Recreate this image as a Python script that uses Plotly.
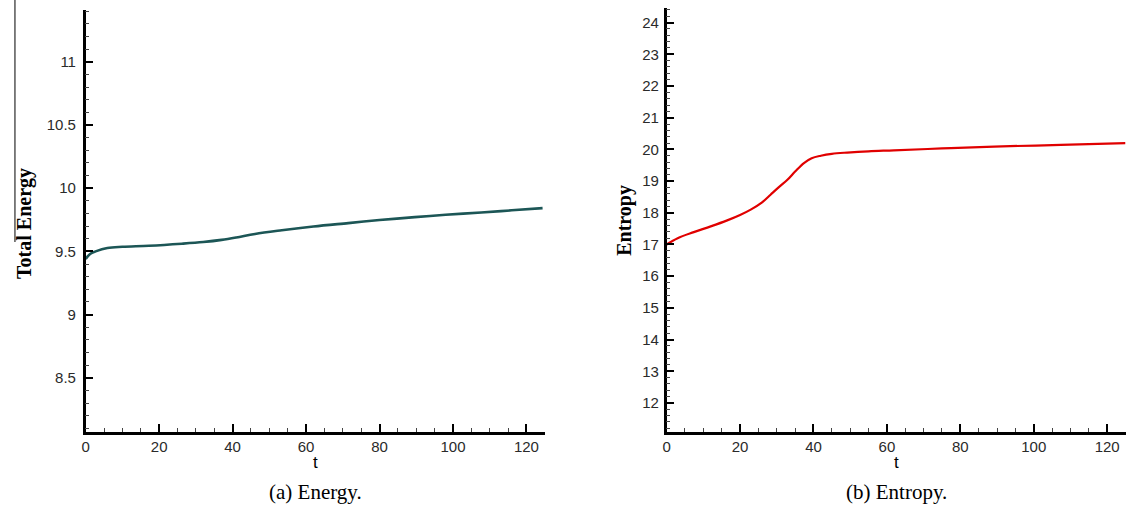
import plotly.graph_objects as go

# ---- data ----
t_energy = [0, 1.2, 2.7, 5.9, 10, 17.2, 26.2, 32, 37, 41, 46.1, 53.4, 62, 71.5, 80, 89.6, 98, 107.7, 116, 124.4]
energy = [9.44, 9.48, 9.50, 9.527, 9.537, 9.545, 9.561, 9.574, 9.591, 9.61, 9.638, 9.667, 9.697, 9.724, 9.748, 9.771, 9.79, 9.808, 9.825, 9.842]

t_entropy = [0, 3, 7.4, 12, 16.5, 20, 22.9, 26, 28.3, 30.5, 32.9, 35, 37.4, 39.5, 42, 45, 49.2, 55, 61.9, 75, 89.2, 107.4, 125]
entropy = [17.0, 17.2, 17.39, 17.57, 17.76, 17.93, 18.1, 18.33, 18.57, 18.8, 19.04, 19.3, 19.57, 19.72, 19.8, 19.86, 19.9, 19.94, 19.97, 20.03, 20.09, 20.14, 20.2]

x_ticks = [0, 20, 40, 60, 80, 100, 120]
energy_ticks = [8.5, 9, 9.5, 10, 10.5, 11]
energy_tick_labels = ["8.5", "9", "9.5", "10", "10.5", "11"]
entropy_ticks = list(range(12, 25))

W, H = 1130, 510
def px(x):
    return x / W
def py(y):
    return 1 - y / H

tick_font = dict(family="Liberation Sans, Arial, sans-serif", size=15, color="#2a2a2a")

fig = go.Figure()
fig.add_trace(go.Scatter(x=t_energy, y=energy, mode="lines", xaxis="x", yaxis="y",
                         line=dict(color="#1c5656", width=2.6, shape="spline"),
                         showlegend=False, hoverinfo="skip"))
fig.add_trace(go.Scatter(x=t_entropy, y=entropy, mode="lines", xaxis="x2", yaxis="y2",
                         line=dict(color="#e00000", width=2.2, shape="spline"),
                         showlegend=False, hoverinfo="skip"))

axis_common = dict(showgrid=False, zeroline=False, showline=True, linecolor="black",
                   linewidth=2.5, ticks="inside", ticklen=8, tickwidth=2.2, tickcolor="black",
                   tickfont=tick_font, mirror=False)

xminor = dict(dtick=5, ticks="inside", ticklen=4, tickwidth=1, tickcolor="#444444", showgrid=False)

fig.update_layout(
    width=W, height=H,
    margin=dict(l=0, r=0, t=0, b=0),
    paper_bgcolor="white", plot_bgcolor="white",
    xaxis=dict(domain=[px(82), px(542.7)], range=[0, 125], tickvals=x_ticks,
               anchor="y", minor=xminor, ticklabelstandoff=0, **axis_common),
    yaxis=dict(domain=[py(431.5), py(10)], range=[8.075, 11.41], tickvals=energy_ticks,
               ticktext=energy_tick_labels, anchor="x", ticklabelstandoff=4,
               minor=dict(dtick=0.1, ticks="inside", ticklen=4, tickwidth=1, tickcolor="#444444", showgrid=False),
               **axis_common),
    xaxis2=dict(domain=[px(665), px(1125.5)], range=[0, 125], tickvals=x_ticks,
                anchor="y2", minor=xminor, ticklabelstandoff=0, **axis_common),
    yaxis2=dict(domain=[py(431.5), py(8)], range=[11.1, 24.46], tickvals=entropy_ticks,
                anchor="x2", ticklabelstandoff=2,
                minor=dict(dtick=0.2, ticks="inside", ticklen=4, tickwidth=1, tickcolor="#444444", showgrid=False),
                **axis_common),
)

serif_bold = dict(family="Liberation Serif, DejaVu Serif, serif", size=20, color="black")
caption_font = dict(family="Liberation Serif, DejaVu Serif, serif", size=21, color="black")
t_font = dict(family="Liberation Sans, Arial, sans-serif", size=17, color="black")

annotations = [
    dict(text="<b>Total Energy</b>", x=px(20), y=py(223), xref="paper", yref="paper",
         textangle=-90, showarrow=False, font=serif_bold, xanchor="center", yanchor="middle"),
    dict(text="<b>Entropy</b>", x=px(622), y=py(220), xref="paper", yref="paper",
         textangle=-90, showarrow=False, font=serif_bold, xanchor="center", yanchor="middle"),
    dict(text="t", x=px(313), y=py(462), xref="paper", yref="paper",
         showarrow=False, font=t_font, xanchor="center", yanchor="middle"),
    dict(text="t", x=px(896), y=py(462), xref="paper", yref="paper",
         showarrow=False, font=t_font, xanchor="center", yanchor="middle"),
    dict(text="(a) Energy.", x=px(313), y=py(492), xref="paper", yref="paper",
         showarrow=False, font=caption_font, xanchor="center", yanchor="middle"),
    dict(text="(b) Entropy.", x=px(896), y=py(492), xref="paper", yref="paper",
         showarrow=False, font=caption_font, xanchor="center", yanchor="middle"),
]
fig.update_layout(annotations=annotations)

# overline artifact next to the "Total Energy" title
fig.add_shape(type="line", xref="paper", yref="paper",
              x0=px(11), x1=px(11), y0=py(0), y1=py(242),
              line=dict(color="black", width=1))

fig.write_html("out.html")
